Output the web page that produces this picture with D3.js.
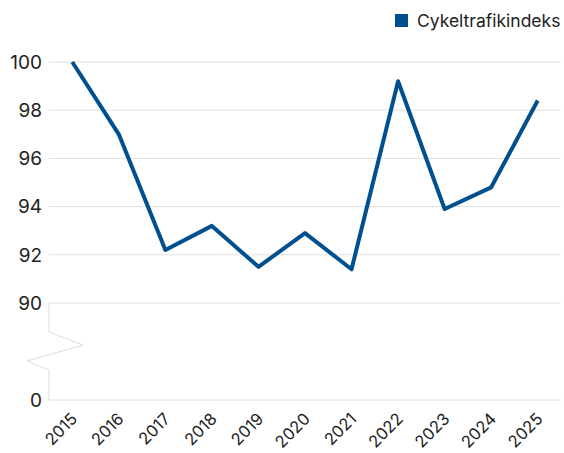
<!DOCTYPE html>
<html>
<head>
<meta charset="utf-8">
<script src="https://cdn.jsdelivr.net/npm/d3@7"></script>
<style>
  body { margin: 0; background: #fff; }
  text { font-family: Inter, "Noto Sans", sans-serif; fill: #222; }
</style>
</head>
<body>
<div id="chart"></div>
<script>
const years = ['2015', '2016', '2017', '2018', '2019', '2020', '2021', '2022', '2023', '2024', '2025'];
const index = [100, 97, 92.2, 93.2, 91.5, 92.9, 91.4, 99.2, 93.9, 94.8, 98.4];
const yTicks = [0, 90, 92, 94, 96, 98, 100];
const gridTicks = [90, 92, 94, 96, 98, 100];
const seriesName = 'Cykeltrafikindeks';

const width = 564, height = 453;
const left = 49, right = 561;
const color = '#00508f';

const svg = d3.select('#chart')
  .append('svg')
  .attr('width', width)
  .attr('height', height);

// x-axis
const x = d3.scalePoint()
  .domain(years)
  .range([left, right])
  .padding(0.5);

// y-axis, broken between 0 and 90
const y = d3.scaleLinear()
  .domain([0, 90, 100])
  .range([400, 303, 62]);

// grid lines
svg.append('g')
  .selectAll('line')
  .data(gridTicks)
  .join('line')
  .attr('x1', left)
  .attr('x2', right)
  .attr('y1', d => y(d))
  .attr('y2', d => y(d))
  .attr('stroke', '#e0e0e0')
  .attr('stroke-width', 1);

// bottom axis line
svg.append('line')
  .attr('x1', left)
  .attr('x2', right)
  .attr('y1', y(0))
  .attr('y2', y(0))
  .attr('stroke', '#dcdcdc');

// left axis with break zigzag
svg.append('path')
  .attr('d', `M${left},${y(90)} V332 L83,345 L27,361 L${left},370 V${y(0)}`)
  .attr('fill', 'none')
  .attr('stroke', '#dcdcdc')
  .attr('stroke-width', 1);

svg.append('g')
  .selectAll('text')
  .data(yTicks)
  .join('text')
  .attr('x', 42)
  .attr('y', d => y(d))
  .attr('dy', '0.36em')
  .attr('text-anchor', 'end')
  .style('font-size', '19px')
  .text(d => d);

svg.append('g')
  .selectAll('text')
  .data(years)
  .join('text')
  .attr('text-anchor', 'end')
  .attr('transform', d => `translate(${x(d) + 6},${420}) rotate(-45)`)
  .style('font-size', '16.5px')
  .text(d => d);

// line
const line = d3.line()
  .x((d, i) => x(years[i]))
  .y(d => y(d));

svg.append('path')
  .datum(index)
  .attr('fill', 'none')
  .attr('stroke', color)
  .attr('stroke-width', 4)
  .attr('stroke-linejoin', 'round')
  .attr('d', line);

// legend
const legend = svg.append('g').attr('transform', 'translate(395,14)');
legend.append('rect')
  .attr('width', 13)
  .attr('height', 13)
  .attr('fill', color);
legend.append('text')
  .attr('x', 22)
  .attr('y', 7)
  .attr('dy', '0.36em')
  .style('font-size', '17.5px')
  .text(seriesName);
</script>
</body>
</html>
